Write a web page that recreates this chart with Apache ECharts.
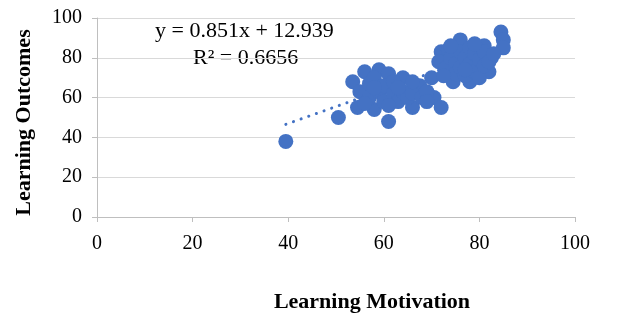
<!DOCTYPE html>
<html>
<head>
<meta charset="utf-8">
<script src="https://cdn.jsdelivr.net/npm/echarts@6/dist/echarts.min.js"></script>
<style>
    html, body { margin: 0; padding: 0; background: #fff; }
    #chart { width: 618px; height: 316px; }
</style>
</head>
<body>
<div id="chart"></div>
<script>
    // values (motivation, outcome)
    let motivation = [
        39.5, 50.5,
        53.5, 56, 59, 61, 64, 54.5, 58, 61, 66, 67.5, 70, 70.5, 72, 55, 57, 57, 58, 59,
        60, 60, 62, 62, 63, 64, 65, 66, 56, 58, 61, 63, 68, 69, 66, 69,
        72, 71.5, 73.5, 76, 81, 84.5, 85, 85, 82.5, 82, 78, 74.5, 73, 74, 75, 75,
        76, 76, 77, 77, 78, 78, 79, 79, 80, 80, 81, 81, 82, 83, 74, 79, 77, 72.5
    ]
    let outcomes = [
        38, 50,
        68, 73, 74, 72, 70, 55, 54, 48, 55, 66, 70, 60, 55, 63, 60, 67, 70, 63,
        58, 66, 62, 68, 58, 63, 60, 62, 57, 65, 56, 65, 60, 63, 68, 58,
        83, 78, 84, 89, 86, 93, 89, 85, 80, 73, 68, 68, 75, 80, 77, 72,
        83, 75, 80, 71, 85, 77, 73, 82, 79, 70, 83, 76, 78, 82, 86, 87, 74, 71
    ]
    let tickValues = [0, 20, 40, 60, 80, 100]
    let slope = 0.851
    let intercept = 12.939
    let rSquared = '0.6656'

    let dotColor = '#4472C4'
    let gridColor = '#d9d9d9'
    let axisColor = '#bfbfbf'
    let serif = '"Liberation Serif", "DejaVu Serif", serif'

    let points = motivation.map((x, i) => [x, outcomes[i]])
    let xMin = Math.min.apply(null, motivation)
    let xMax = Math.max.apply(null, motivation)
    let trend = [
        [xMin, slope * xMin + intercept],
        [xMax, slope * xMax + intercept]
    ]

    let chart = echarts.init(document.getElementById('chart'))
    const options = {
        animation: false,
        grid: {
            left: 97,
            right: 43,
            top: 18,
            bottom: 99,
            outerBoundsMode: 'none'
        },
        xAxis: {
            type: 'value',
            min: tickValues[0],
            max: tickValues[tickValues.length - 1],
            interval: 20,
            name: 'Learning Motivation',
            nameLocation: 'middle',
            nameGap: 74,
            nameTextStyle: {
                fontFamily: serif,
                fontWeight: 'bold',
                fontSize: 22,
                color: '#000',
                padding: [0, 0, 0, 72]
            },
            axisLine: { show: true, lineStyle: { color: axisColor, width: 1 } },
            axisTick: { show: true, length: 5, lineStyle: { color: axisColor } },
            axisLabel: { fontFamily: serif, fontSize: 20, color: '#000', margin: 17 },
            splitLine: { show: false }
        },
        yAxis: {
            type: 'value',
            min: tickValues[0],
            max: tickValues[tickValues.length - 1],
            interval: 20,
            name: 'Learning Outcomes',
            nameLocation: 'middle',
            nameGap: 62,
            nameTextStyle: {
                fontFamily: serif,
                fontWeight: 'bold',
                fontSize: 22,
                color: '#000',
                padding: [0, 10, 0, 0]
            },
            axisLine: { show: true, lineStyle: { color: axisColor, width: 1 } },
            axisTick: { show: true, length: 5, lineStyle: { color: axisColor } },
            axisLabel: { fontFamily: serif, fontSize: 20, color: '#000', margin: 15 },
            splitLine: { show: true, lineStyle: { color: gridColor, width: 1 } }
        },
        graphic: [
            {
                type: 'text',
                left: 155,
                top: 20,
                style: {
                    text: 'y = ' + slope + 'x + ' + intercept,
                    font: '22px ' + serif,
                    fill: '#000'
                }
            },
            {
                type: 'text',
                left: 193,
                top: 47,
                style: {
                    text: 'R² = ' + rSquared,
                    font: '22px ' + serif,
                    fill: '#000'
                }
            }
        ],
        series: [
            {
                type: 'line',
                data: trend,
                symbol: 'none',
                z: 1,
                lineStyle: { color: dotColor, width: 3, type: [0.1, 8], cap: 'round' }
            },
            {
                type: 'scatter',
                data: points,
                symbolSize: 15,
                z: 2,
                itemStyle: { color: dotColor, opacity: 1 }
            }
        ]
    }
    chart.setOption(options)
</script>
</body>
</html>
